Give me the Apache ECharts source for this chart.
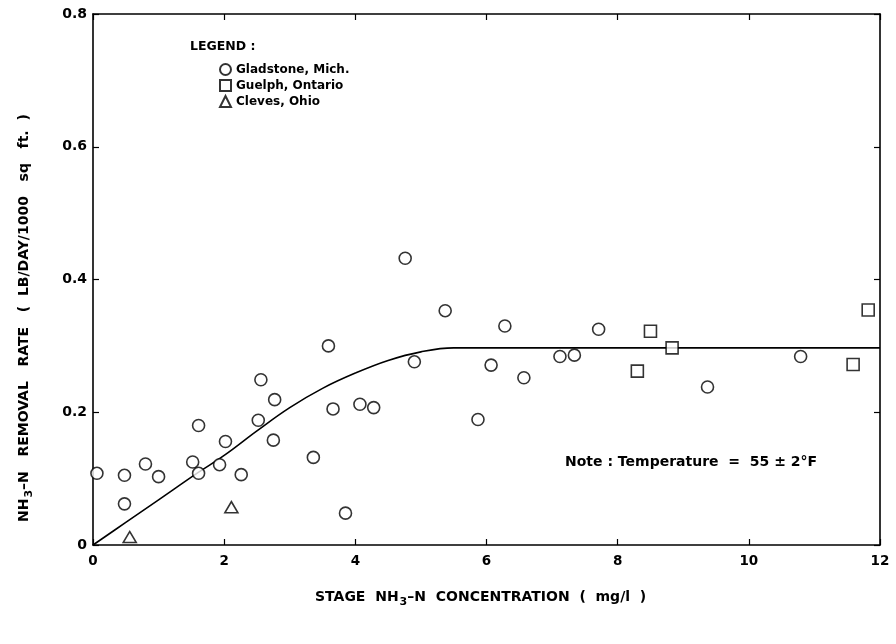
<!DOCTYPE html>
<html>
<head>
<meta charset="utf-8">
<script src="https://cdn.jsdelivr.net/npm/echarts@6/dist/echarts.min.js"></script>
<style>html,body{margin:0;padding:0;background:#fff}#c{width:896px;height:644px}</style>
</head>
<body>
<div id="c"></div>
<script>
// Data
const gladstone = [
  [0.06,0.108],[0.48,0.105],[0.48,0.062],[0.80,0.122],[1.00,0.103],
  [1.52,0.125],[1.61,0.108],[1.61,0.180],[1.93,0.121],[2.02,0.156],
  [2.26,0.106],[2.52,0.188],[2.56,0.249],[2.75,0.158],[2.77,0.219],
  [3.36,0.132],[3.59,0.300],[3.66,0.205],[3.85,0.048],[4.07,0.212],
  [4.28,0.207],[4.76,0.432],[4.90,0.276],[5.37,0.353],[5.87,0.189],
  [6.07,0.271],[6.28,0.330],[6.57,0.252],[7.12,0.284],[7.34,0.286],
  [7.71,0.325],[9.37,0.238],[10.79,0.284]
];
const guelph = [
  [8.30,0.262],[8.50,0.322],[8.83,0.297],[11.59,0.272],[11.82,0.354]
];
const cleves = [
  [0.56,0.012],[2.11,0.057]
];
const curve = [
  [0,0],[0.5,0.034],[1,0.068],[1.6,0.109],[2,0.135],[2.5,0.172],[3,0.207],
  [3.5,0.236],[4,0.259],[4.5,0.278],[5,0.291],[5.5,0.297],[6,0.297],[12,0.297]
];
const xTicks = [0,2,4,6,8,10,12];
const yTicks = [0,0.2,0.4,0.6,0.8];

const chart = echarts.init(document.getElementById('c'), null, {renderer:'canvas'});
const FONT = 'DejaVu Sans';
function axisCommon(){
  return {
    axisLine:{show:true, onZero:false, lineStyle:{color:'#000', width:1.6}},
    axisTick:{show:true, inside:true, length:6, lineStyle:{color:'#000', width:1.2}},
    splitLine:{show:false}
  };
}
const hollow = {color:'#fff', borderColor:'#000', borderWidth:1.6};
chart.setOption({
  animation:false,
  backgroundColor:'#fff',
  grid:{left:93, right:16, top:14, bottom:99, containLabel:false},
  xAxis:[
    Object.assign({type:'value', min:0, max:12, interval:2, position:'bottom',
      axisLabel:{color:'#000', fontFamily:FONT, fontWeight:'bold', fontSize:13.5, margin:9,
        formatter:v=>xTicks.includes(v)?String(v):''}}, axisCommon()),
    Object.assign({type:'value', min:0, max:12, interval:2, position:'top',
      axisLabel:{show:false}}, axisCommon())
  ],
  yAxis:[
    Object.assign({type:'value', min:0, max:0.8, interval:0.2, position:'left',
      axisLabel:{color:'#000', fontFamily:FONT, fontWeight:'bold', fontSize:14, margin:6,
        formatter:v=>{const t=yTicks.find(k=>Math.abs(k-v)<1e-9); return t===undefined?'':(t===0?'0':t.toFixed(1));}}}, axisCommon()),
    Object.assign({type:'value', min:0, max:0.8, interval:0.2, position:'right',
      axisLabel:{show:false}}, axisCommon())
  ],
  legend:{
    show:true, orient:'vertical', left:214, top:58, itemGap:3,
    itemWidth:11, itemHeight:11,
    data:['Gladstone, Mich.','Guelph, Ontario','Cleves, Ohio'],
    textStyle:{color:'#000', fontFamily:FONT, fontWeight:'bold', fontSize:12, padding:[0,0,0,0]}
  },
  series:[
    {name:'fit', type:'line', data:curve, smooth:0.4, symbol:'none', silent:true,
      lineStyle:{color:'#000', width:1.6}, z:1},
    {name:'Gladstone, Mich.', type:'scatter', symbol:'circle', symbolSize:12, data:gladstone, itemStyle:hollow, z:3},
    {name:'Guelph, Ontario', type:'scatter', symbol:'rect', symbolSize:12, data:guelph, itemStyle:hollow, z:3},
    {name:'Cleves, Ohio', type:'scatter', symbol:'triangle', symbolSize:[13,11], data:cleves, itemStyle:hollow, z:3}
  ],
  graphic:[
    {type:'text', left:190, top:40, style:{text:'LEGEND :', fill:'#000', font:'bold 12.5px "DejaVu Sans"'}},
    {type:'text', left:565, top:455, style:{text:'Note : Temperature  =  55 ± 2°F', fill:'#000', font:'bold 14px "DejaVu Sans"'}},
    {type:'text', left:315, top:590, style:{
      rich:{n:{font:'bold 14px "DejaVu Sans"', fill:'#000'}, s:{font:'bold 11px "DejaVu Sans"', fill:'#000', padding:[10,0,0,1]}},
      text:'{n|STAGE  NH}{s|3}{n|–N  CONCENTRATION  (  mg/l  )}'}},
    {type:'text', x:14, y:522, rotation:Math.PI/2, style:{
      rich:{n:{font:'bold 14px "DejaVu Sans"', fill:'#000'}, s:{font:'bold 11px "DejaVu Sans"', fill:'#000', padding:[10,0,0,1]}},
      text:'{n|NH}{s|3}{n|–N   REMOVAL   RATE   (  LB/DAY/1000   sq   ft.  )}'}}
  ]
});
</script>
</body>
</html>
